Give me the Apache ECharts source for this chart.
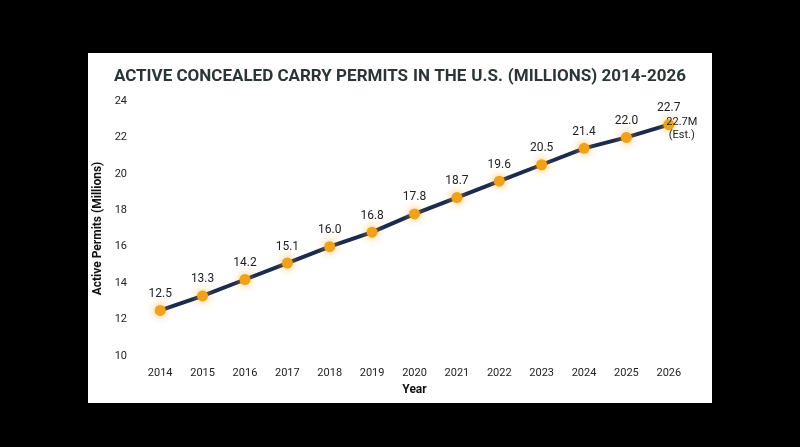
<!DOCTYPE html><html><head><meta charset="utf-8"><script src="https://cdn.jsdelivr.net/npm/echarts@6/dist/echarts.min.js"></script>
<style>html,body{margin:0;background:#000}#c{width:800px;height:447px}</style></head><body><div id="c"></div><script>
const years=['2014','2015','2016','2017','2018','2019','2020','2021','2022','2023','2024','2025','2026'];
const permits=[12.5,13.3,14.2,15.1,16.0,16.8,17.8,18.7,19.6,20.5,21.4,22.0,22.7];
const yTicks=[10,12,14,16,18,20,22,24];
const c=echarts.init(document.getElementById('c'));
c.setOption({backgroundColor:'#000',
graphic:[{type:'rect',z:-10,shape:{x:88,y:53,width:624,height:350},style:{fill:'#fff'}}],
title:{left:'center',top:63,text:'{b|ACTIVE CONCEALED CARRY PERMITS} {n|IN THE} {b|U.S.} {n|(MILLIONS) 2014-2026}',
textStyle:{rich:{b:{fontFamily:'Roboto',fontWeight:'bold',fontSize:17,color:'#2b3535'},n:{fontFamily:'Roboto',fontSize:17,color:'#2b3535'}}}},
grid:{left:139,right:110,top:101,bottom:91},
xAxis:{type:'category',data:years,name:'Year',nameLocation:'middle',nameGap:27,nameTextStyle:{fontFamily:'Roboto',fontWeight:'bold',fontSize:12,color:'#111'},
axisLine:{show:false},axisTick:{show:false},axisLabel:{fontFamily:'Roboto',fontSize:11,color:'#222',margin:12}},
yAxis:{type:'value',min:10,max:24,interval:2,name:'Active Permits (Millions)',nameLocation:'middle',nameGap:27,nameTextStyle:{fontFamily:'Roboto',fontWeight:'bold',fontSize:12,color:'#111'},
axisLine:{show:false},axisTick:{show:false},splitLine:{show:false},axisLabel:{fontFamily:'Roboto',fontSize:11,color:'#222',margin:12,formatter:v=>yTicks.includes(v)?v:''}},
series:[{type:'line',data:permits,symbol:'circle',symbolSize:11,
lineStyle:{color:'#1c2a4c',width:4},
itemStyle:{color:'#f0a21c',shadowColor:'rgba(245,170,40,0.8)',shadowBlur:8},
label:{show:true,position:'top',distance:5,fontFamily:'Roboto',fontSize:12,color:'#222',formatter:p=>p.value.toFixed(1)},
markPoint:{symbol:'circle',symbolSize:0,data:[{coord:['2026',22.7],label:{show:true,position:'right',offset:[8,4],fontFamily:'Roboto',fontSize:11,color:'#222',formatter:'22.7M\n(Est.)',align:'center',lineHeight:13}}]}}]});
</script></body></html>
